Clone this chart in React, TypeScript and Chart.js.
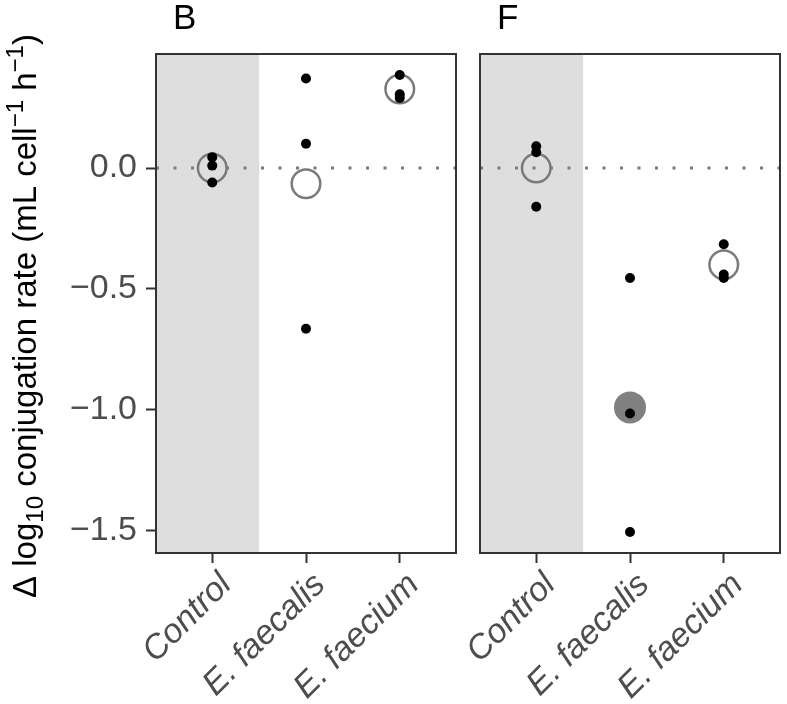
import React, { useEffect, useRef } from 'react';
import { Chart, registerables } from 'chart.js';
Chart.register(...registerables);

// ---- data ----
const categories = ['Control', 'E. faecalis', 'E. faecium'];
const categoryPositions = [1, 2, 3];
const yTicks = [0, -0.5, -1.0, -1.5];
const yMin = -1.592;
const yMax = 0.4715;
const xMin = 0.4;
const xMax = 3.6;
const shadeFrom = 0.4;
const shadeTo = 1.5;
const referenceLine = 0;

const panelLabels = ['B', 'F'];

const bControl = [0.045, 0.01, -0.06];
const bFaecalis = [0.37, 0.1, -0.665];
const bFaecium = [0.385, 0.305, 0.29];
const bMeans = [0.0, -0.065, 0.327];
const bMeanFilled = [false, false, false];

const fControl = [0.09, 0.065, -0.16];
const fFaecalis = [-0.455, -1.015, -1.505];
const fFaecium = [-0.315, -0.44, -0.455];
const fMeans = [0.0, -0.99, -0.4];
const fMeanFilled = [false, true, false];

const FONT = "'Liberation Sans', Arial, Helvetica, sans-serif";

function buildDatasets(groups: number[][], means: number[], filled: boolean[]) {
  const pts = groups.flatMap((g, i) => g.map((v) => ({ x: categoryPositions[i], y: v })));
  const meanPts = means.map((m, i) => ({ x: categoryPositions[i], y: m }));
  const openMeans = meanPts.filter((_, i) => !filled[i]);
  const filledMeans = meanPts.filter((_, i) => filled[i]);
  return [
    {
      type: 'line',
      data: [
        { x: xMin, y: referenceLine },
        { x: xMax, y: referenceLine },
      ],
      borderColor: '#7a7a7a',
      borderWidth: 3,
      borderDash: [3, 14.5],
      borderCapStyle: 'butt',
      pointRadius: 0,
      showLine: true,
      fill: false,
      order: 4,
    },
    {
      type: 'scatter',
      data: openMeans,
      pointRadius: 14.3,
      pointBorderWidth: 2.5,
      pointBorderColor: '#7a7a7a',
      pointBackgroundColor: 'rgba(0,0,0,0)',
      order: 3,
    },
    {
      type: 'scatter',
      data: filledMeans,
      pointRadius: 16,
      pointBorderWidth: 0,
      pointBorderColor: '#808080',
      pointBackgroundColor: '#808080',
      order: 2,
    },
    {
      type: 'scatter',
      data: pts,
      pointRadius: 5,
      pointBorderWidth: 0,
      pointBackgroundColor: '#000000',
      order: 1,
    },
  ];
}

const shadePlugin = {
  id: 'shade',
  beforeDatasetsDraw(chart: any) {
    const { ctx, chartArea, scales } = chart;
    const x0 = scales.x.getPixelForValue(shadeFrom);
    const x1 = scales.x.getPixelForValue(shadeTo);
    ctx.save();
    ctx.fillStyle = '#dedede';
    ctx.fillRect(x0, chartArea.top, x1 - x0, chartArea.bottom - chartArea.top);
    ctx.restore();
  },
};

const borderPlugin = {
  id: 'panelBorder',
  afterDraw(chart: any) {
    const { ctx, chartArea } = chart;
    ctx.save();
    ctx.strokeStyle = '#333333';
    ctx.lineWidth = 2;
    ctx.strokeRect(chartArea.left, chartArea.top, chartArea.right - chartArea.left, chartArea.bottom - chartArea.top);
    ctx.restore();
  },
};

function labelPlugin(letter: string) {
  return {
    id: 'panelLetter',
    afterDraw(chart: any) {
      const { ctx, chartArea } = chart;
      ctx.save();
      ctx.fillStyle = '#000000';
      ctx.font = `35px ${FONT}`;
      ctx.textAlign = 'left';
      ctx.textBaseline = 'alphabetic';
      ctx.fillText(letter, chartArea.left + 17, 29);
      ctx.restore();
    },
  };
}

const yTitlePieces = [
  { t: 'Δ log', k: 'n' },
  { t: '10', k: 'sub' },
  { t: ' conjugation rate (mL cell', k: 'n' },
  { t: '−1', k: 'sup' },
  { t: ' h', k: 'n' },
  { t: '−1', k: 'sup' },
  { t: ')', k: 'n' },
];

const yTitlePlugin = {
  id: 'yTitle',
  afterDraw(chart: any) {
    const { ctx, chartArea } = chart;
    const size = 33;
    const small = 24;
    ctx.save();
    const fontFor = (k: string) => (k === 'n' ? `${size}px ${FONT}` : `${small}px ${FONT}`);
    let total = 0;
    for (const p of yTitlePieces) {
      ctx.font = fontFor(p.k);
      total += ctx.measureText(p.t).width;
    }
    const cy = chartArea.top + 262;
    ctx.translate(36, cy);
    ctx.rotate(-Math.PI / 2);
    ctx.fillStyle = '#000000';
    ctx.textAlign = 'left';
    ctx.textBaseline = 'alphabetic';
    let x = -total / 2;
    for (const p of yTitlePieces) {
      ctx.font = fontFor(p.k);
      const dy = p.k === 'sub' ? 7 : p.k === 'sup' ? -13 : 0;
      ctx.fillText(p.t, x, dy);
      x += ctx.measureText(p.t).width;
    }
    ctx.restore();
  },
};

function makeConfig(idx: number, groups: number[][], means: number[], filled: boolean[], showY: boolean, padLeft: number, padRight: number) {
  const plugins: any[] = [shadePlugin, borderPlugin, labelPlugin(panelLabels[idx])];
  if (showY) plugins.push(yTitlePlugin);
  return {
    type: 'scatter',
    data: { datasets: buildDatasets(groups, means, filled) as any },
    plugins,
    options: {
      responsive: false,
      maintainAspectRatio: false,
      animation: false,
      events: [],
      layout: { autoPadding: false, padding: { left: padLeft, right: padRight, top: 54, bottom: 0 } },
      plugins: { legend: { display: false }, tooltip: { enabled: false }, title: { display: false } },
      scales: {
        x: {
          type: 'linear',
          min: xMin,
          max: xMax,
          afterBuildTicks(scale: any) {
            scale.ticks = categoryPositions.map((v) => ({ value: v }));
          },
          afterFit(scale: any) {
            scale.height = 151;
            scale.paddingLeft = 0;
            scale.paddingRight = 0;
          },
          grid: {
            display: true,
            drawOnChartArea: false,
            drawTicks: true,
            tickLength: 10,
            tickWidth: 2,
            tickColor: '#333333',
          },
          border: { display: false },
          ticks: {
            autoSkip: false,
            minRotation: 45,
            maxRotation: 45,
            padding: 2,
            labelOffset: 14,
            color: '#4d4d4d',
            font: { family: FONT, size: 34, style: 'italic' },
            callback: (v: any) => {
              const i = categoryPositions.indexOf(Number(v));
              return i >= 0 ? categories[i] : '';
            },
          },
        },
        y: {
          type: 'linear',
          display: showY,
          min: yMin,
          max: yMax,
          afterBuildTicks(scale: any) {
            scale.ticks = yTicks.map((v) => ({ value: v }));
          },
          afterFit(scale: any) {
            scale.width = showY ? 156 : 0;
            scale.paddingTop = 0;
            scale.paddingBottom = 0;
          },
          grid: {
            display: true,
            drawOnChartArea: false,
            drawTicks: true,
            tickLength: 10,
            tickWidth: 2,
            tickColor: '#333333',
          },
          border: { display: false },
          ticks: {
            padding: 9,
            color: '#4d4d4d',
            font: { family: FONT, size: 34 },
            callback: (v: any) => {
              const n = Number(v);
              const s = Math.abs(n).toFixed(1);
              return n < 0 ? '−' + s : s;
            },
          },
        },
      },
    },
  };
}

export default function App() {
  const ref1 = useRef<HTMLCanvasElement>(null);
  const ref2 = useRef<HTMLCanvasElement>(null);

  useEffect(() => {
    const c1 = new Chart(ref1.current as HTMLCanvasElement, makeConfig(0, [bControl, bFaecalis, bFaecium], bMeans, bMeanFilled, true, 0, 12) as any);
    const c2 = new Chart(ref2.current as HTMLCanvasElement, makeConfig(1, [fControl, fFaecalis, fFaecium], fMeans, fMeanFilled, false, 92, 7) as any);
    return () => {
      c1.destroy();
      c2.destroy();
    };
  }, []);

  return (
    <div style={{ position: 'fixed', left: 0, top: 0, width: 787, height: 704, background: '#ffffff', overflow: 'hidden' }}>
      <canvas ref={ref1} width={468} height={704} style={{ position: 'absolute', left: 0, top: 0, width: 468, height: 704 }} />
      <canvas ref={ref2} width={399} height={704} style={{ position: 'absolute', left: 388, top: 0, width: 399, height: 704 }} />
    </div>
  );
}
